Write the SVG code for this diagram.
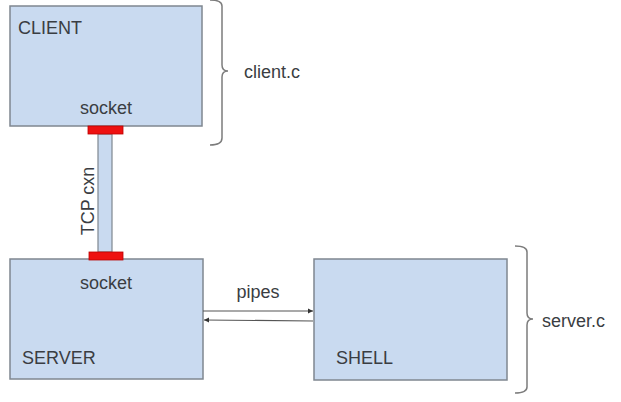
<svg xmlns="http://www.w3.org/2000/svg" width="621" height="402" viewBox="0 0 621 402">
<defs>
<style>
.box{fill:#c9daf0;stroke:#7f8790;stroke-width:1.5}
.sock{fill:#ee1111;stroke:#b00;stroke-width:0.8}
.t{font-family:"Liberation Sans",Arial,sans-serif;font-size:18px;fill:#3a3d42}
.br{fill:none;stroke:#7c7c7c;stroke-width:1.5}
.ln{stroke:#555;stroke-width:1.2;fill:none}
</style>
<marker id="ah" markerWidth="6" markerHeight="6" refX="5" refY="3" orient="auto" markerUnits="userSpaceOnUse">
<path d="M0,0.5 L5,3 L0,5.5 z" fill="#333"/>
</marker>
</defs>
<rect width="621" height="402" fill="#ffffff"/>
<g id="client">
<rect class="box" x="10" y="6" width="192" height="120"/>
<text class="t" x="18" y="34">CLIENT</text>
<text class="t" x="106" y="114" text-anchor="middle">socket</text>
</g>
<g id="server">
<rect class="box" x="10" y="259" width="193" height="120"/>
<text class="t" x="106" y="289" text-anchor="middle">socket</text>
<text class="t" x="22" y="364">SERVER</text>
</g>
<g id="shell">
<rect class="box" x="314" y="259" width="193" height="121"/>
<text class="t" x="336" y="364">SHELL</text>
</g>
<g id="client-bracket">
<path class="br" d="M210,0 Q222,0 222,6 L222,65 Q222,71 228,71 Q222,71 222,77 L222,138 Q222,145 210,145"/>
<text class="t" x="244" y="78">client.c</text>
</g>
<g id="server-bracket">
<path class="br" d="M515,246 Q527,246 527,252 L527,313 Q527,319 533,319 Q527,319 527,325 L527,387 Q527,393 515,393"/>
<text class="t" x="542" y="327">server.c</text>
</g>
<g id="connectors">
<rect x="98" y="134" width="14" height="118" fill="#c9daf0" stroke="#7f8790" stroke-width="1.2"/>
<rect class="sock" x="88" y="126" width="35" height="8"/>
<rect class="sock" x="89" y="252" width="34" height="8"/>
<text class="t" transform="translate(94,201) rotate(-90)" text-anchor="middle">TCP cxn</text>
<line class="ln" x1="203" y1="311" x2="313" y2="311" marker-end="url(#ah)"/>
<line class="ln" x1="313" y1="321" x2="204" y2="320" marker-end="url(#ah)"/>
<text class="t" x="258" y="298" text-anchor="middle">pipes</text>
</g>
</svg>
